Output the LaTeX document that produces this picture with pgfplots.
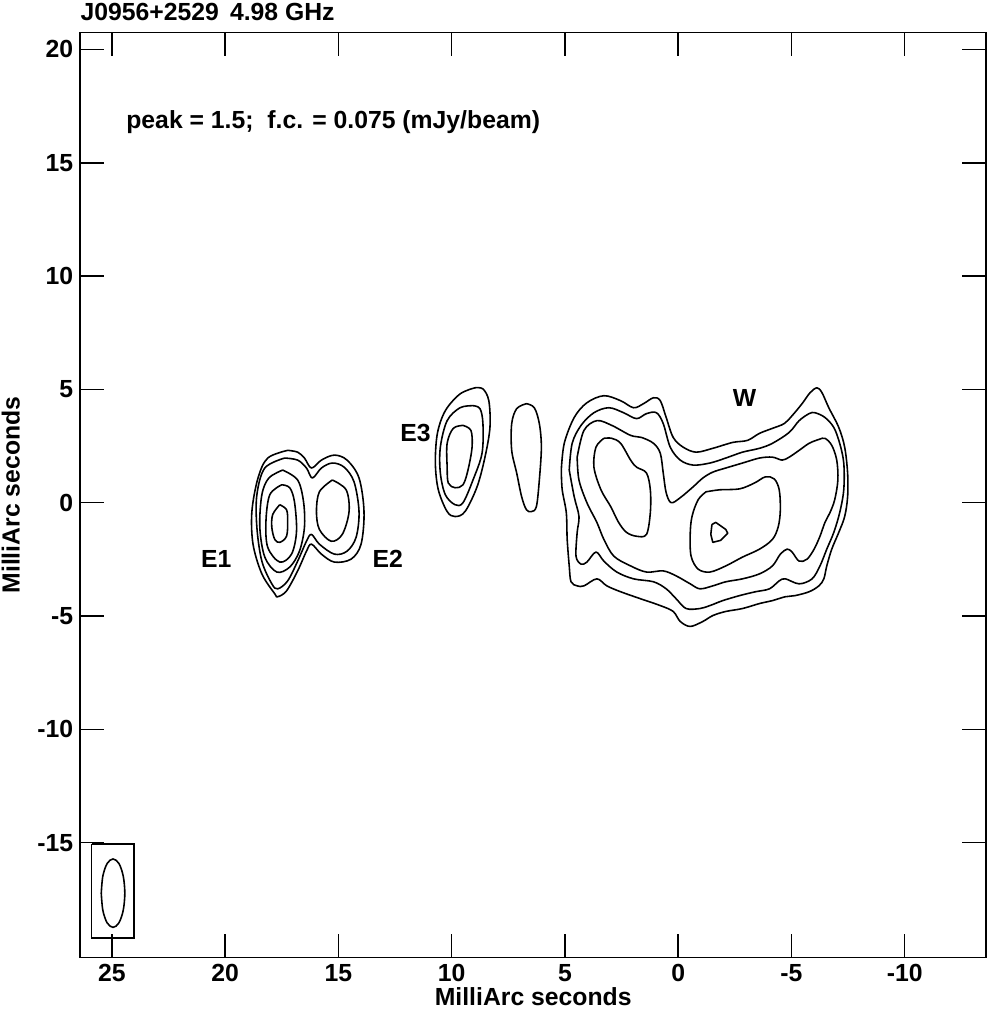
\documentclass[border=0pt]{standalone}
\usepackage{fontspec}
\setmainfont{Liberation Sans}
\usepackage{pgfplots}
\pgfplotsset{compat=1.18}

\pgfplotsset{
  cont/.style={black, line width=0.8pt, smooth, tension=0.55, no marks, line join=round},
}

\begin{document}
\begin{tikzpicture}[font=\fontsize{12.5}{14}\selectfont\bfseries]
\begin{axis}[
  name=ax,
  scale only axis,
  width=457.5pt, height=467pt,
  x dir=reverse,
  xmin=-13.6, xmax=26.4,
  ymin=-20.07, ymax=20.74,
  xtick={25,20,15,10,5,0,-5,-10},
  xticklabels={25,20,15,10,5,0,-5,-10},
  ytick={-15,-10,-5,0,5,10,15,20},
  yticklabels={-15,-10,-5,0,5,10,15,20},
  tick align=inside,
  major tick length=12pt,
  every tick/.style={black, line width=0.8pt},
  axis line style={line width=0.8pt},
  tick label style={font=\fontsize{12.5}{14}\selectfont\bfseries},
  label style={font=\fontsize{12.5}{14}\selectfont\bfseries},
  xlabel={MilliArc seconds},
  ylabel={MilliArc seconds},
  xlabel style={yshift=4pt},
  ylabel style={yshift=2pt},
  clip=false,
]
% --- E1 / E2 ---
\addplot[cont] coordinates {(17.24,2.31) (18.12,1.97) (18.55,1.09) (18.82,-0.39) (18.77,-1.83) (18.38,-3.14) (17.81,-4.02) (17.68,-4.15) (17.29,-3.89) (16.80,-3.01) (16.41,-2.14) (16.19,-1.83) (15.75,-2.27) (15.18,-2.62) (14.44,-2.49) (14.00,-1.83) (13.87,-0.39) (14.09,1.09) (14.62,1.88) (15.18,2.10) (15.75,1.88) (16.19,1.53) (16.50,1.97) (16.80,2.23) (17.24,2.31)};
\addplot[cont] coordinates {(17.37,1.97) (18.25,1.53) (18.60,0.35) (18.60,-1.09) (18.38,-2.58) (17.94,-3.58) (17.68,-3.80) (17.24,-3.45) (16.80,-2.58) (16.41,-1.70) (16.19,-1.40) (15.84,-1.83) (15.18,-2.27) (14.62,-2.14) (14.22,-1.53) (14.09,-0.39) (14.31,0.92) (14.75,1.57) (15.27,1.75) (15.75,1.53) (16.15,1.09) (16.41,1.53) (16.80,1.88) (17.37,1.97)};
\addplot[cont] coordinates {(17.46,1.44) (18.07,1.09) (18.38,0.35) (18.47,-1.09) (18.25,-2.40) (17.72,-3.06) (17.15,-2.84) (16.72,-2.14) (16.50,-1.09) (16.54,0.04) (16.80,1.00) (17.46,1.44)};
\addplot[cont] coordinates {(17.50,0.79) (18.03,0.35) (18.20,-0.83) (18.12,-1.97) (17.59,-2.62) (17.07,-2.27) (16.85,-1.27) (16.94,0.04) (17.15,0.66) (17.50,0.79)};
\addplot[cont] coordinates {(17.59,-0.09) (17.90,-0.52) (17.94,-1.09) (17.81,-1.62) (17.59,-1.75) (17.29,-1.48) (17.24,-0.83) (17.29,-0.31) (17.59,-0.09)};
\addplot[cont] coordinates {(15.27,1.00) (15.84,0.48) (15.97,-0.39) (15.84,-1.18) (15.32,-1.70) (14.83,-1.40) (14.53,-0.39) (14.66,0.57) (15.27,1.00)};
% --- E3 ---
\addplot[cont] coordinates {(8.97,5.07) (9.63,4.80) (10.28,4.06) (10.63,3.06) (10.72,1.75) (10.59,0.57) (10.20,-0.39) (9.85,-0.61) (9.41,-0.39) (8.88,0.70) (8.53,2.01) (8.31,3.32) (8.36,4.50) (8.62,5.02) (8.97,5.07)};
\addplot[cont] coordinates {(9.06,4.28) (9.63,4.19) (10.20,3.62) (10.50,2.45) (10.50,1.31) (10.28,0.35) (9.85,-0.09) (9.50,0.00) (9.06,1.00) (8.66,2.18) (8.62,3.49) (8.75,4.15) (9.06,4.28)};
\addplot[cont] coordinates {(9.50,3.41) (9.93,3.28) (10.20,2.62) (10.20,1.57) (10.15,0.87) (9.85,0.66) (9.50,0.79) (9.28,1.44) (9.10,2.45) (9.15,3.19) (9.50,3.41)};
% --- blob between E3 and W ---
\addplot[cont] coordinates {(6.70,4.37) (7.13,4.15) (7.35,3.49) (7.35,2.31) (7.13,1.31) (6.91,0.26) (6.70,-0.31) (6.48,-0.39) (6.26,-0.17) (6.13,1.00) (6.04,2.45) (6.13,3.49) (6.35,4.19) (6.70,4.37)};
% --- W ---
\addplot[cont] coordinates {(5.16,1.44) (5.03,2.62) (4.59,3.76) (4.03,4.41) (3.28,4.72) (2.54,4.50) (1.97,4.19) (1.53,4.37) (1.09,4.63) (0.79,4.50) (0.53,3.76) (0.22,2.88) (-0.22,2.45) (-0.79,2.23) (-1.53,2.40) (-2.41,2.66) (-3.06,2.75) (-3.59,3.06) (-4.16,3.28) (-4.68,3.49) (-5.03,3.84) (-5.47,4.37) (-5.82,4.85) (-6.13,5.07) (-6.35,4.85) (-6.65,4.19) (-7.09,3.32) (-7.35,2.45) (-7.48,1.31) (-7.48,0.26) (-7.35,-0.61) (-7.09,-1.31) (-6.78,-2.05) (-6.56,-2.79) (-6.43,-3.36) (-6.21,-3.67) (-5.78,-3.93) (-5.16,-4.10) (-4.73,-4.15) (-4.16,-4.32) (-3.59,-4.45) (-2.84,-4.67) (-2.10,-4.80) (-1.53,-4.98) (-1.09,-5.24) (-0.53,-5.46) (-0.09,-5.24) (0.22,-4.80) (0.79,-4.54) (1.66,-4.24) (2.54,-3.93) (3.15,-3.67) (3.59,-3.36) (4.16,-3.67) (4.46,-3.67) (4.73,-3.49) (4.81,-2.79) (4.90,-1.62) (4.94,-0.44) (5.12,0.57) (5.16,1.44)};
\addplot[cont] coordinates {(4.81,1.44) (4.68,2.62) (4.29,3.41) (3.72,3.97) (3.06,4.19) (2.41,3.97) (1.84,3.71) (1.40,3.93) (0.96,3.97) (0.66,3.49) (0.35,2.45) (-0.09,1.88) (-0.66,1.66) (-1.40,1.75) (-2.10,1.97) (-2.84,2.23) (-3.59,2.40) (-4.16,2.62) (-4.90,3.10) (-5.34,3.62) (-5.78,3.93) (-6.04,3.97) (-6.48,3.76) (-6.87,3.32) (-7.13,2.62) (-7.31,1.75) (-7.31,0.57) (-7.13,-0.44) (-6.87,-1.31) (-6.56,-2.05) (-6.26,-2.79) (-5.91,-3.36) (-5.34,-3.58) (-4.73,-3.36) (-4.46,-3.45) (-4.03,-3.80) (-3.41,-3.93) (-2.71,-4.10) (-1.97,-4.32) (-1.40,-4.54) (-0.96,-4.67) (-0.35,-4.67) (0.09,-4.24) (0.53,-3.80) (1.09,-3.49) (1.97,-3.36) (2.71,-3.06) (3.28,-2.58) (3.63,-2.18) (4.03,-2.62) (4.29,-2.71) (4.51,-2.36) (4.46,-1.31) (4.38,-0.61) (4.59,0.26) (4.81,1.44)};
\addplot[cont] coordinates {(4.46,2.01) (4.16,3.19) (3.59,3.62) (2.93,3.41) (2.10,2.97) (1.62,2.88) (1.09,2.62) (0.79,2.18) (0.66,1.31) (0.53,0.44) (0.31,0.00) (-0.09,0.22) (-0.66,0.70) (-1.09,1.09) (-1.53,1.35) (-2.10,1.53) (-2.84,1.75) (-3.59,1.97) (-4.16,2.01) (-4.59,1.88) (-4.90,2.01) (-5.34,2.31) (-5.78,2.62) (-6.21,2.79) (-6.48,2.84) (-6.78,2.53) (-7.00,1.88) (-7.05,1.00) (-6.91,0.13) (-6.70,-0.44) (-6.48,-0.87) (-6.26,-1.48) (-6.00,-2.05) (-5.69,-2.49) (-5.34,-2.58) (-5.03,-2.18) (-4.81,-2.05) (-4.51,-2.27) (-4.16,-2.79) (-3.59,-3.14) (-2.84,-3.36) (-2.10,-3.49) (-1.53,-3.67) (-0.96,-3.80) (-0.53,-3.58) (0.09,-3.23) (0.66,-3.01) (1.40,-3.06) (2.10,-2.79) (2.84,-2.36) (3.28,-1.62) (3.59,-0.87) (4.03,0.00) (4.38,1.00) (4.46,2.01)};
\addplot[cont] coordinates {(3.28,2.84) (3.63,2.45) (3.72,1.57) (3.41,0.57) (2.98,-0.17) (2.63,-0.87) (2.28,-1.31) (1.84,-1.48) (1.40,-1.40) (1.23,-0.44) (1.23,0.57) (1.40,1.31) (1.84,1.57) (2.10,1.88) (2.54,2.62) (2.93,2.84) (3.28,2.84)};
\addplot[cont] coordinates {(-1.23,0.48) (-1.84,0.57) (-2.71,0.61) (-3.37,0.87) (-3.85,1.14) (-4.24,1.05) (-4.46,0.57) (-4.51,-0.31) (-4.42,-1.05) (-4.16,-1.62) (-3.59,-2.05) (-2.84,-2.40) (-2.10,-2.79) (-1.40,-3.06) (-0.88,-2.93) (-0.57,-2.36) (-0.53,-1.40) (-0.61,-0.61) (-0.88,0.13) (-1.23,0.48)};
\addplot[black, line width=0.8pt, no marks, line join=round] coordinates {(-1.49,-0.96) (-1.66,-0.87) (-2.10,-1.18) (-2.19,-1.35) (-1.88,-1.66) (-1.53,-1.75) (-1.44,-1.40) (-1.49,-0.96)};
% --- beam ---
\addplot[black, line width=0.8pt, no marks] coordinates {(25.9,-15.07) (24.03,-15.07) (24.03,-19.21) (25.9,-19.21) (25.9,-15.07)};
\addplot[cont] coordinates {(25.47,-17.23) (25.40,-16.475) (25.21,-15.92) (24.95,-15.72) (24.69,-15.92) (24.50,-16.475) (24.43,-17.23) (24.50,-17.985) (24.69,-18.54) (24.95,-18.74) (25.21,-18.54) (25.40,-17.985) (25.47,-17.23)};
% --- labels ---
\node[anchor=west, inner sep=0pt] at (axis cs:24.38,16.81) {peak = 1.5;\ \ f.c. = 0.075 (mJy/beam)};
\node at (axis cs:20.39,-2.49) {E1};
\node at (axis cs:12.82,-2.49) {E2};
\node at (axis cs:11.60,3.06) {E3};
\node at (axis cs:-2.93,4.63) {W};
\end{axis}
\node[anchor=base west, inner sep=0pt] at ([yshift=6pt]ax.north west) {J0956+2529\hspace{0.45em}4.98 GHz};
\pgfresetboundingbox
\path ([shift={(-40.5pt,-27.5pt)}]ax.south west) rectangle ([shift={(0.5pt,16.5pt)}]ax.north east);
\end{tikzpicture}
\end{document}
